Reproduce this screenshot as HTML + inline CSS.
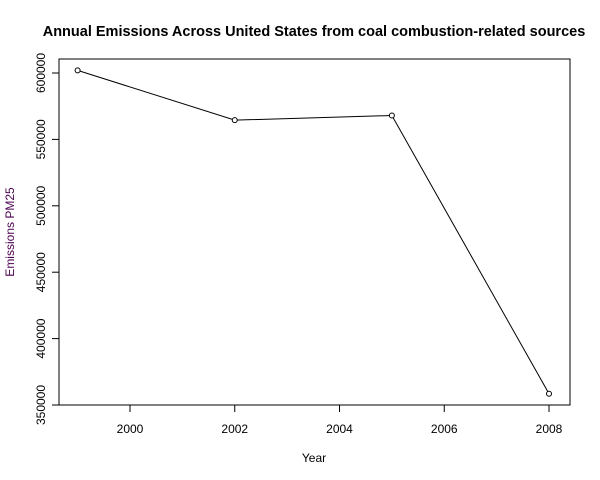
<!DOCTYPE html>
<html><head><meta charset="utf-8"><style>
body{margin:0;background:#fff}
svg{display:block;font-family:"Liberation Sans",Arial,sans-serif}
</style></head><body>
<svg id="chart" width="600" height="480">
<text x="314" y="36" text-anchor="middle" font-size="14.5" font-weight="bold">Annual Emissions Across United States from coal combustion-related sources</text>
<rect x="59" y="59" width="511" height="346" fill="none" stroke="#000"/>
<text x="314" y="462" text-anchor="middle" font-size="12">Year</text>
<text transform="translate(14,232) rotate(-90)" text-anchor="middle" font-size="12" fill="#4b0050">Emissions PM25</text>
<g id="axes"></g><g id="series"></g>
</svg>
<script>
const years=[1999,2002,2005,2008];
const emissions=[602000,564500,568000,358500];
const xTicks=[2000,2002,2004,2006,2008];
const yTicks=[350000,400000,450000,500000,550000,600000];
const ns="http://www.w3.org/2000/svg";
function x(v){return 130+(v-2000)*(549-130)/8;}
function y(v){return 405-(v-350000)*332/250000;}
function mk(t,a,p){const e=document.createElementNS(ns,t);for(const k in a)e.setAttribute(k,a[k]);p.appendChild(e);return e;}
const ax=document.getElementById('axes'),se=document.getElementById('series');
mk('line',{x1:x(2000),x2:x(2008),y1:405,y2:405,stroke:'#000'},ax);
xTicks.forEach(t=>{
 mk('line',{x1:x(t),x2:x(t),y1:405,y2:412,stroke:'#000'},ax);
 const tx=mk('text',{x:x(t),y:433,'text-anchor':'middle','font-size':12},ax);tx.textContent=t;
 
 
});
mk('line',{x1:59,x2:59,y1:y(350000),y2:y(600000),stroke:'#000'},ax);
yTicks.forEach(t=>{
 mk('line',{x1:52,x2:59,y1:y(t),y2:y(t),stroke:'#000'},ax);
 const tx=mk('text',{transform:`translate(45,${y(t)}) rotate(-90)`,'text-anchor':'middle','font-size':12},ax);tx.textContent=t;
 
 
});
const pts=years.map((v,i)=>x(v)+','+y(emissions[i])).join(' ');
const pl=mk('polyline',{points:pts,fill:'none',stroke:'#000'},se);


years.forEach((v,i)=>{
 const c=mk('circle',{cx:x(v),cy:y(emissions[i]),r:2.5,fill:'#fff',stroke:'#000'},se);
 
 
});
</script>
</body></html>
